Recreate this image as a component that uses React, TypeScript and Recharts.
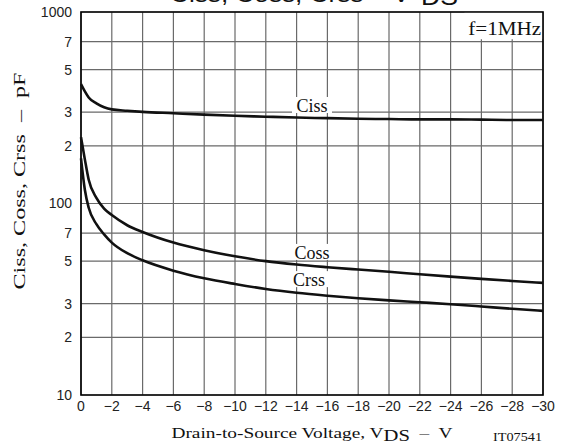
// Capacitance vs drain-to-source voltage (datasheet style, log y axis).
// Two stacked charts with the same plot box: the lower one draws the grid,
// the upper one the curves, labels, ticks and frame.
import {
  LineChart,
  Line,
  XAxis,
  YAxis,
  ReferenceArea,
  ReferenceDot,
} from "recharts";

// drain-to-source voltage, V
const vds = [0, -0.25, -0.5, -1, -1.5, -2, -3, -4, -6, -8, -10, -12, -14, -16, -18, -20, -22, -24, -26, -28, -30];
// capacitances, pF
const ciss = [420, 385, 358, 333, 318, 310, 305, 301, 296, 291, 287, 284, 281, 279, 277, 276, 275, 275, 274, 273, 273];
const coss = [222, 170, 133, 107, 94, 87, 77, 71, 62.5, 57, 53, 50, 48, 46.5, 45.2, 44, 42.7, 41.5, 40.4, 39.4, 38.5];
const crss = [172, 118, 95, 78, 69, 62.5, 55, 50.5, 44.6, 40.7, 38, 35.8, 34.2, 33, 32, 31.2, 30.5, 29.8, 29, 28.2, 27.5];

const xTicks = [0, -2, -4, -6, -8, -10, -12, -14, -16, -18, -20, -22, -24, -26, -28, -30];
const yTicks = [10, 20, 30, 50, 70, 100, 200, 300, 500, 700, 1000];

// curve labels, placed in data space
const curveNames = ["Ciss", "Coss", "Crss"];
const curveLabelX = [-15, -15, -14.8];
const curveLabelY = [323, 55.2, 39.8];

const X_MIN = -30;
const X_MAX = 0;
const Y_MIN = 10;
const Y_MAX = 1000;

const data = vds.map((v, i) => ({
  vds: v,
  ciss: ciss[i],
  coss: coss[i],
  crss: crss[i],
}));

// grid as one serpentine path through every tick (runs along the frame between rows)
const gridPath: { vds: number; g: number }[] = [];
xTicks.forEach((t, i) => {
  const ys = i % 2 === 0 ? [Y_MIN, Y_MAX] : [Y_MAX, Y_MIN];
  ys.forEach((y) => gridPath.push({ vds: t, g: y }));
});
yTicks.forEach((t, j) => {
  const xs = j % 2 === 0 ? [X_MIN, X_MAX] : [X_MAX, X_MIN];
  xs.forEach((x) => gridPath.push({ vds: x, g: t }));
});

const SERIF = "'Liberation Serif', 'Times New Roman', serif";
const SANS = "'Liberation Sans', Arial, sans-serif";
const MARGIN = { top: 12, right: 22, bottom: 0, left: 0 };

const fmtY = (v: number) =>
  v === 10 || v === 100 || v === 1000 ? String(v) : String(v).charAt(0);
const fmtX = (v: number) => (v === 0 ? "0" : "\u2212" + Math.abs(v));

// white-backed label so the grid breaks around the text
function CurveLabel({ viewBox, text }: any) {
  if (!viewBox) return null;
  const cx = viewBox.x + viewBox.width / 2;
  const cy = viewBox.y + viewBox.height / 2;
  const w = 40;
  return (
    <g>
      <rect x={cx - w / 2} y={cy - 9} width={w} height={16} fill="#fff" />
      <text
        x={cx}
        y={cy + 6}
        textAnchor="middle"
        fontFamily={SERIF}
        fontSize={18}
        fill="#111"
      >
        {text}
      </text>
    </g>
  );
}

function FreqLabel({ viewBox }: any) {
  if (!viewBox) return null;
  return (
    <text
      x={viewBox.x + viewBox.width / 2 + 1}
      y={viewBox.y + 23}
      textAnchor="middle"
      fontFamily={SERIF}
      fontSize={18}
      textLength={73}
      lengthAdjust="spacingAndGlyphs"
      fill="#111"
    >
      f=1MHz
    </text>
  );
}

// shared axes (tick labels only on the upper chart)
function Axes({ show }: { show: boolean }) {
  return [
    <XAxis
      key="x"
      dataKey="vds"
      type="number"
      domain={[X_MIN, X_MAX]}
      reversed
      ticks={xTicks}
      interval={0}
      tickFormatter={fmtX}
      tickLine={false}
      axisLine={false}
      tickMargin={0}
      height={50}
      tick={show ? { fontSize: 14, fill: "#222", fontFamily: SANS } : false}
    />,
    <YAxis
      key="y"
      type="number"
      scale="log"
      domain={[Y_MIN, Y_MAX]}
      ticks={yTicks}
      interval={0}
      tickFormatter={fmtY}
      tickLine={false}
      axisLine={false}
      tickMargin={3}
      width={81}
      tick={show ? { fontSize: 14, fill: "#222", fontFamily: SANS } : false}
    />,
  ];
}

export default function App() {
  const layer = { position: "absolute" as const, left: 0, top: 0 };
  return (
    <div style={{ ...layer, width: 565, height: 445, background: "#fff" }}>
      {/* grid layer */}
      <div style={layer}>
        <LineChart width={565} height={445} data={gridPath} margin={MARGIN}>
          {Axes({ show: false })}
          <Line
            dataKey="g"
            type="linear"
            stroke="#6a6a6a"
            strokeWidth={1.2}
            dot={false}
            activeDot={false}
            isAnimationActive={false}
          />
        </LineChart>
      </div>

      {/* curves layer */}
      <div style={layer}>
        <LineChart width={565} height={445} data={data} margin={MARGIN}>
          {Axes({ show: true })}

          {/* white box behind the test condition */}
          <ReferenceArea
            x1={-24.9}
            x2={-30}
            y1={720}
            y2={1000}
            fill="#fff"
            fillOpacity={1}
            stroke="none"
            label={<FreqLabel />}
          />

          {curveNames.map((name, i) => (
            <ReferenceDot
              key={name}
              x={curveLabelX[i]}
              y={curveLabelY[i]}
              r={1}
              fill="none"
              stroke="none"
              label={<CurveLabel text={name} />}
            />
          ))}

          <Line type="monotone" dataKey="ciss" stroke="#111" strokeWidth={2.6} dot={false} isAnimationActive={false} />
          <Line type="monotone" dataKey="coss" stroke="#111" strokeWidth={2.6} dot={false} isAnimationActive={false} />
          <Line type="monotone" dataKey="crss" stroke="#111" strokeWidth={2.6} dot={false} isAnimationActive={false} />

          {/* plot frame */}
          <ReferenceArea
            x1={X_MAX}
            x2={X_MIN}
            y1={Y_MIN}
            y2={Y_MAX}
            fill="none"
            stroke="#000"
            strokeWidth={1.6}
          />
        </LineChart>
      </div>

      {/* titles drawn on top of the chart */}
      <svg width={565} height={445} style={{ ...layer, pointerEvents: "none" }}>
        <text x={170} y={2} fontFamily={SANS} fontSize={22} textLength={240} lengthAdjust="spacingAndGlyphs" fill="#111">
          Ciss, Coss, Crss – V
        </text>
        <text x={421} y={5} fontFamily={SANS} fontSize={24} textLength={37} lengthAdjust="spacingAndGlyphs" fill="#111">
          DS
        </text>

        <text
          transform="translate(25,181) rotate(-90)"
          textAnchor="middle"
          fontFamily={SERIF}
          fontSize={17}
          textLength={217}
          lengthAdjust="spacingAndGlyphs"
          fill="#111"
          style={{ whiteSpace: "pre" }}
        >
          {"Ciss, Coss, Crss  \u2013  pF"}
        </text>

        <g transform="translate(312,438) scale(1.29,1)">
          <text textAnchor="middle" fontFamily={SERIF} fontSize={15} fill="#111" style={{ whiteSpace: "pre" }}>
            {"Drain-to-Source Voltage, V"}
            <tspan dy={3} fontSize={16}>DS</tspan>
            <tspan dy={-3}>{"  \u2013  V"}</tspan>
          </text>
        </g>

        <text x={493} y={441} fontFamily={SERIF} fontSize={12} textLength={49} lengthAdjust="spacingAndGlyphs" fill="#111">
          IT07541
        </text>
      </svg>
    </div>
  );
}
